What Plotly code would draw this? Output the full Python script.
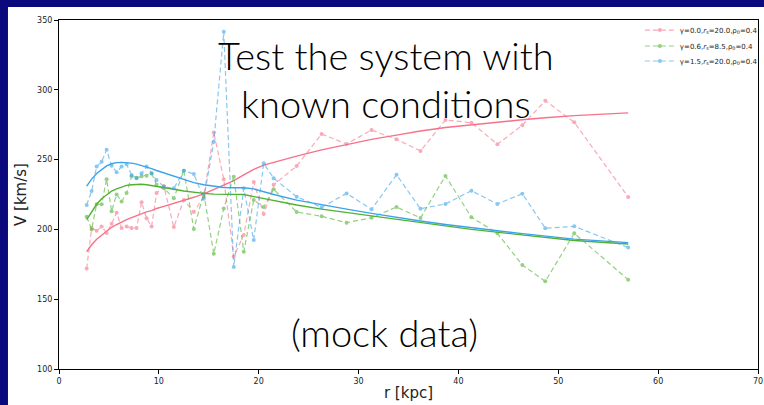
import plotly.graph_objects as go

# radii of the mock data points [kpc]
r = [2.77, 3.27, 3.77, 4.27, 4.77, 5.27, 5.77, 6.27, 6.77, 7.27, 7.77, 8.27, 8.77, 9.27, 9.77,
     10.5, 11.5, 12.5, 13.5, 14.5, 15.5, 16.5, 17.5, 18.5, 19.5, 20.5, 21.5,
     23.8, 26.3, 28.8, 31.3, 33.8, 36.2, 38.7, 41.3, 43.9, 46.4, 48.7, 51.6, 57.0]

# mock velocities [km/s]
v_g00 = [172, 201, 199, 202, 197.5, 204, 212, 201, 202, 201, 201, 219.5, 208, 202, 226,
         231, 201.7, 221, 212.5, 223.5, 269.5, 236, 180.5, 196, 234, 211, 232,
         245.4, 268.3, 261.2, 271.2, 264.5, 256.2, 278.4, 276.4, 261.0, 274.6, 292.2, 276.7, 223.2]
v_g06 = [209, 200, 218, 218, 236, 213, 225, 220, 226, 238, 237, 238, 238.5, 240, 232,
         229.5, 222.3, 242, 200.3, 225.8, 182.5, 215, 237.8, 184, 221, 216, 228.7,
         212.5, 209.4, 204.8, 208.4, 216, 208.2, 238.3, 208.7, 197.2, 174.5, 162.8, 197.2, 164]
v_g15 = [217.5, 227.5, 245, 248.5, 257, 245.6, 241, 245, 246.6, 239, 236.6, 240.2, 245, 240.2, 235.4,
         230.6, 229.4, 242, 239.7, 222, 262.8, 341.5, 173, 229.4, 192.4, 247.3, 236.6,
         223.4, 215.8, 225.8, 214.4, 239.1, 214.8, 218.2, 227.7, 218.2, 225.6, 200.8, 202.2, 187]

# model rotation curves
m_g00 = [184, 189, 193, 196, 199, 201.5, 203.5, 205.5, 207, 208.5, 210, 211, 212.5, 213.5, 215,
         216.5, 218.5, 220.5, 223, 225.5, 228.5, 231.5, 235, 239, 243, 246, 248,
         252.5, 257, 261, 264.5, 267.5, 270.5, 273, 275, 277, 278.5, 280, 281.5, 283.5]
m_g06 = [207, 213, 218, 222, 225, 227.5, 229, 230.5, 231.5, 232, 232.3, 232.3, 232, 231.5, 231,
         230, 228.8, 227.5, 226.5, 225.8, 225.3, 225.2, 225.5, 225, 223.5, 222, 220.5,
         217.5, 214.5, 212, 209.5, 207, 204.5, 202.5, 200, 198, 196, 194, 192, 189.5]
m_g15 = [231, 236, 240, 243, 245.5, 247, 247.8, 248, 248, 247.5, 246.8, 245.8, 244.8, 243.5, 242.2,
         240.5, 238, 235.5, 233.5, 232, 230.8, 230, 229.8, 229.8, 229, 227, 225,
         221, 217.5, 214.5, 211.5, 208.5, 206, 203.5, 201, 199, 197, 195, 193, 190.5]

names = ["γ=0.0,<i>r</i><sub>s</sub>=20.0,ρ<sub>0</sub>=0.4",
         "γ=0.6,<i>r</i><sub>s</sub>=8.5,ρ<sub>0</sub>=0.4",
         "γ=1.5,<i>r</i><sub>s</sub>=20.0,ρ<sub>0</sub>=0.4"]
colors = ["#f77189", "#50b131", "#3ba3ec"]
legends = ["legend", "legend2", "legend3"]

fig = go.Figure()
for data, model, name, c, lg in zip([v_g00, v_g06, v_g15], [m_g00, m_g06, m_g15],
                                    names, colors, legends):
    fig.add_trace(go.Scatter(x=r, y=data, name=name, mode="lines+markers", legend=lg,
                             line=dict(color=c, width=1.2, dash="5px,3px"),
                             marker=dict(color=c, size=4), opacity=0.6))
    fig.add_trace(go.Scatter(x=r, y=model, mode="lines", showlegend=False,
                             line=dict(color=c, width=1.4)))

big = dict(family="Lato Light, Lato, Liberation Sans", size=38, color="black", weight=300)
for txt, x, y in [("Test the system with", 0.468, 0.9),
                  ("known conditions", 0.468, 0.763),
                  ("(mock data)", 0.466, 0.106)]:
    fig.add_annotation(text=txt, x=x, y=y, xref="paper", yref="paper", xanchor="center",
                       yanchor="middle", showarrow=False, font=big)

# navy slide border on the left and top
navy = "#0a0a7d"
fig.add_shape(type="rect", xref="paper", yref="paper", x0=-0.2, x1=-0.073, y0=-0.3, y1=1.2,
              fillcolor=navy, line_width=0, layer="below")
fig.add_shape(type="rect", xref="paper", yref="paper", x0=-0.2, x1=1.2, y0=1.037, y1=1.2,
              fillcolor=navy, line_width=0, layer="below")

axis = dict(showgrid=False, zeroline=False, showline=True, linecolor="black", linewidth=1,
            mirror=True, ticks="outside", ticklen=4, tickcolor="black", automargin=False,
            tickfont=dict(family="DejaVu Sans", size=8, color="#222"))
fig.update_xaxes(range=[0, 70], dtick=10,
                 title=dict(text="r [kpc]", font=dict(family="DejaVu Sans", size=15, color="#222"),
                            standoff=2), **axis)
fig.update_yaxes(range=[100, 350], dtick=50,
                 title=dict(text="V [km/s]", font=dict(family="DejaVu Sans", size=15, color="#222"),
                            standoff=6), **axis)

leg = dict(x=0.831, xanchor="left", yanchor="middle", bgcolor="rgba(0,0,0,0)",
           font=dict(family="DejaVu Sans", size=7, color="#222"), itemwidth=30)
fig.update_layout(width=764, height=405, margin=dict(l=59, r=6, t=20, b=36, autoexpand=False),
                  paper_bgcolor="white", plot_bgcolor="white",
                  legend=dict(y=0.971, **leg), legend2=dict(y=0.9255, **leg),
                  legend3=dict(y=0.8825, **leg))

fig.write_html("out.html", config={"displayModeBar": False},
               post_script="document.body.style.margin='0';")
